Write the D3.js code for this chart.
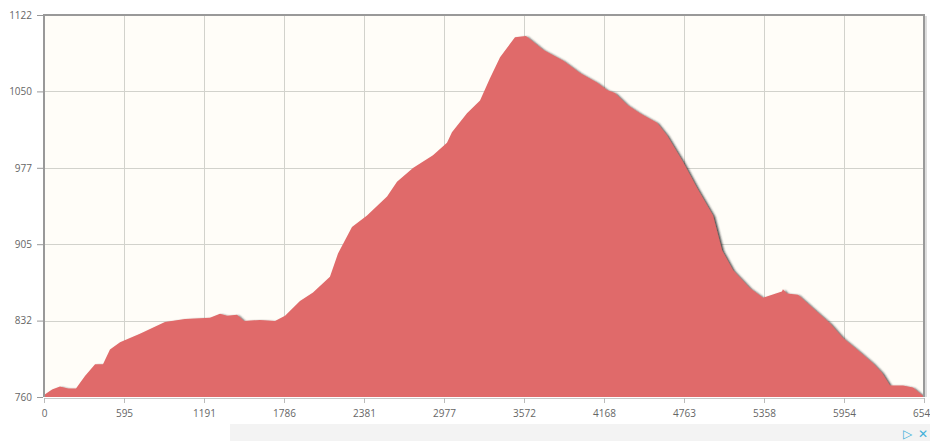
<!DOCTYPE html>
<meta charset="utf-8">
<style>
body { margin: 0; background: #fff; }
.tick text { font-family: "Open Sans", sans-serif; font-size: 10px; fill: #666; }
.grid line { stroke: #d2d2cc; stroke-width: 1; }
</style>
<body>
<script src="https://d3js.org/d3.v7.min.js"></script>
<script>

// distance (m) and elevation (m)
var distance = [0, 60, 119, 179, 238, 305, 380, 439, 491, 566, 714, 900, 1049, 1235, 1310, 1362, 1436, 1488, 1607, 1719, 1794, 1905, 2002, 2128, 2188, 2292, 2404, 2553, 2627, 2746, 2895, 2999, 3036, 3148, 3245, 3319, 3394, 3505, 3587, 3714, 3862, 3989, 4115, 4190, 4249, 4339, 4435, 4562, 4636, 4755, 4860, 4979, 5046, 5128, 5254, 5351, 5492, 5499, 5529, 5611, 5723, 5849, 5946, 6050, 6169, 6236, 6296, 6393, 6467, 6534, 6549];
var elevation = [762, 767, 770, 768, 768, 780, 791, 791, 805, 812, 820, 831, 834, 835, 839, 837, 838, 832, 833, 832, 837, 851, 859, 874, 896, 921, 932, 950, 964, 977, 989, 1001, 1011, 1029, 1041, 1062, 1082, 1101, 1102, 1089, 1079, 1067, 1058, 1051, 1048, 1037, 1029, 1020, 1008, 983, 958, 932, 899, 880, 863, 854, 860, 862, 858, 857, 844, 830, 816, 805, 792, 783, 771, 771, 769, 762, 760];

var xTickLabels = ["0", "595", "1191", "1786", "2381", "2977", "3572", "4168", "4763", "5358", "5954", "6549"];
var yTickLabels = ["760", "832", "905", "977", "1050", "1122"];
var xMax = 6549, yMin = 760, yMax = 1122;

var W = 930, H = 441;
var pl = 44, pr = 924, pt = 15, pb = 397;

var svg = d3.select("body").append("svg")
    .attr("width", W)
    .attr("height", H);

var defs = svg.append("defs");
var f = defs.append("filter").attr("id", "shadow")
    .attr("x", "-5%").attr("y", "-5%").attr("width", "110%").attr("height", "110%");
f.append("feDropShadow")
    .attr("dx", 2).attr("dy", 1).attr("stdDeviation", 1)
    .attr("flood-color", "#222").attr("flood-opacity", 0.85);

defs.append("clipPath").attr("id", "plotclip")
  .append("rect")
    .attr("x", pl).attr("y", pt)
    .attr("width", pr - pl).attr("height", pb - pt);

var x = d3.scaleLinear().domain([0, xMax]).range([pl, pr]);
var y = d3.scaleLinear().domain([yMin, yMax]).range([pb, pt]);

var xTicks = xTickLabels.map(function(d, i) { return i * xMax / 11; });
var yTicks = yTickLabels.map(function(d, i) { return yMin + i * (yMax - yMin) / 5; });

// plot background
svg.append("rect")
    .attr("x", pl).attr("y", pt)
    .attr("width", pr - pl).attr("height", pb - pt)
    .attr("fill", "#fffdf8");

// grid
var grid = svg.append("g").attr("class", "grid");
grid.selectAll(".v").data(xTicks.slice(1, -1)).enter().append("line")
    .attr("x1", function(d) { return Math.round(x(d)) + 0.5; })
    .attr("x2", function(d) { return Math.round(x(d)) + 0.5; })
    .attr("y1", pt).attr("y2", pb);
grid.selectAll(".h").data(yTicks.slice(1, -1)).enter().append("line")
    .attr("y1", function(d) { return Math.round(y(d)) + 0.5; })
    .attr("y2", function(d) { return Math.round(y(d)) + 0.5; })
    .attr("x1", pl).attr("x2", pr);

// area
var data = distance.map(function(d, i) { return [d, elevation[i]]; });
var area = d3.area()
    .x(function(d) { return x(d[0]); })
    .y0(pb)
    .y1(function(d) { return y(d[1]); });

svg.append("g").attr("clip-path", "url(#plotclip)")
  .append("path")
    .datum(data)
    .attr("d", area)
    .attr("fill", "#e06b6b")
    .attr("filter", "url(#shadow)");

// frame
svg.append("path")
    .attr("d", "M" + pl + "," + pb + "V" + pt + "H" + pr + "V" + pb)
    .attr("fill", "none")
    .attr("stroke", "#999")
    .attr("stroke-width", 2);
svg.append("line")
    .attr("x1", pr + 2).attr("x2", pr + 2)
    .attr("y1", pt + 1).attr("y2", pb)
    .attr("stroke", "#ddd").attr("stroke-width", 2);
svg.append("line")
    .attr("x1", pl).attr("x2", pr)
    .attr("y1", pb + 1.5).attr("y2", pb + 1.5)
    .attr("stroke", "#c8c8c8").attr("stroke-width", 1);

// axes
var xAxis = d3.axisBottom(x)
    .tickValues(xTicks)
    .tickSize(5)
    .tickPadding(7)
    .tickFormat(function(d, i) { return xTickLabels[i]; });
var gx = svg.append("g")
    .attr("transform", "translate(0," + (pb + 1) + ")")
    .call(xAxis);
gx.select(".domain").remove();
gx.selectAll(".tick line").attr("stroke", "#bbb");

var yAxis = d3.axisLeft(y)
    .tickValues(yTicks)
    .tickSize(6)
    .tickPadding(5)
    .tickFormat(function(d, i) { return yTickLabels[i]; });
var gy = svg.append("g")
    .attr("transform", "translate(" + (pl - 1) + ",0)")
    .call(yAxis);
gy.select(".domain").remove();
gy.selectAll(".tick line").attr("stroke", "#999");

// strip below the chart
svg.append("rect")
    .attr("x", 230).attr("y", 424)
    .attr("width", W - 230).attr("height", H - 424)
    .attr("fill", "#f3f3f3");
svg.append("text")
    .attr("x", 903).attr("y", 438)
    .attr("font-family", "DejaVu Sans").attr("font-size", 12)
    .attr("fill", "#3fb0d9")
    .text("▷");
svg.append("text")
    .attr("x", 918).attr("y", 438)
    .attr("font-family", "DejaVu Sans").attr("font-size", 12)
    .attr("fill", "#3fb0d9")
    .text("✕");

</script>
</body>
